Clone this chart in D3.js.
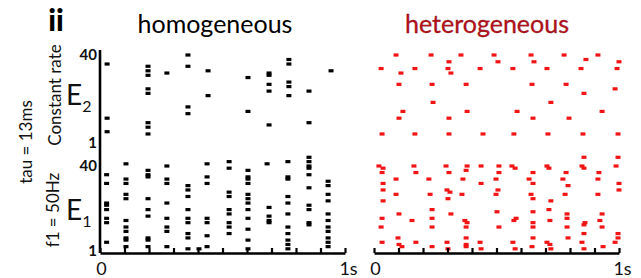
<!DOCTYPE html>
<html>
<head>
<meta charset="utf-8">
<script src="https://cdn.jsdelivr.net/npm/d3@7"></script>
<style>
  body { margin: 0; background: #fff; }
  text { font-family: Lato, "Open Sans", sans-serif; }
</style>
</head>
<body>
<div id="chart"></div>
<script>
// homogeneous: bursts, [time (s), [neuron ids]]
var homE2 = [
  [0.029, [36, 12, 6]],
  [0.196, [35, 33, 31, 25, 23, 10, 8, 5]],
  [0.273, [32]],
  [0.359, [40, 35, 17, 14]],
  [0.441, [33, 22]],
  [0.604, [30, 15]],
  [0.690, [32, 31, 27, 24, 9]],
  [0.771, [38, 36, 28, 26, 22]],
  [0.853, [24, 10]],
  [0.943, [33]]
];
var homE1 = [
  [0.027, [36, 32, 23, 22, 20, 16, 14, 5]],
  [0.106, [41, 34, 32, 27, 25, 15, 12, 10, 7, 6, 3]],
  [0.196, [38, 36, 35, 25, 20, 17, 7, 6, 3]],
  [0.273, [40, 34, 32, 23, 16, 12, 10, 3]],
  [0.359, [31, 29, 26, 20, 16, 14, 9, 7, 2]],
  [0.404, [2]],
  [0.437, [41, 35, 32, 16, 14, 8, 3]],
  [0.527, [42, 39, 28, 26, 20, 18, 14, 12, 9]],
  [0.604, [38, 35, 34, 32, 27, 25, 23, 20, 16, 11, 6, 2]],
  [0.682, [41]],
  [0.690, [21, 17, 15, 14]],
  [0.767, [42, 35, 34, 26, 23, 18, 12, 9, 6, 4, 2]],
  [0.853, [44, 42, 40, 39, 36, 30, 22, 20, 14, 13]],
  [0.931, [33, 31, 27, 24, 18, 15, 12, 10, 7, 5, 3]]
];

// heterogeneous: single spikes, [time (s), neuron id]
var hetE2 = [
  [0.090, 40], [0.233, 40], [0.355, 40], [0.490, 40], [0.641, 40], [0.776, 40], [0.914, 40],
  [0.306, 37], [0.506, 37], [0.653, 37], [0.865, 38], [1.000, 37],
  [0.029, 34], [0.167, 34], [0.302, 34], [0.433, 34], [0.567, 34], [0.706, 34], [0.845, 34], [0.992, 34],
  [0.110, 32], [0.314, 32],
  [0.102, 27], [0.237, 27], [0.376, 27], [0.645, 27], [0.784, 27], [0.857, 23], [0.984, 25],
  [0.241, 19], [0.722, 19],
  [0.118, 15], [0.380, 15], [0.584, 15], [0.931, 15],
  [0.102, 12], [0.306, 12], [0.649, 12], [0.796, 12],
  [0.033, 5], [0.167, 5], [0.306, 5], [0.445, 5], [0.571, 5], [0.710, 5], [0.853, 5], [0.996, 5]
];
var hetE1 = [
  [0.020, 40], [0.037, 39], [0.033, 37], [0.037, 32], [0.037, 29], [0.037, 24], [0.033, 16], [0.029, 12], [0.033, 5],
  [0.090, 34], [0.090, 27], [0.102, 18], [0.098, 7], [0.102, 4], [0.114, 3],
  [0.163, 40], [0.171, 37], [0.155, 15], [0.171, 5],
  [0.224, 34], [0.229, 27], [0.237, 20], [0.237, 16], [0.237, 12], [0.237, 3],
  [0.294, 40], [0.306, 37], [0.298, 29], [0.310, 28], [0.302, 25], [0.314, 18], [0.298, 5], [0.302, 2],
  [0.363, 34], [0.359, 27], [0.380, 40], [0.376, 38], [0.371, 15], [0.380, 14], [0.376, 12], [0.376, 7], [0.376, 4], [0.376, 3],
  [0.437, 40], [0.437, 32], [0.433, 5], [0.437, 2],
  [0.510, 40], [0.510, 37], [0.498, 34], [0.506, 29], [0.498, 27], [0.502, 19], [0.510, 12],
  [0.567, 5], [0.576, 2], [0.563, 40], [0.576, 39], [0.580, 16], [0.571, 15],
  [0.649, 37], [0.633, 34], [0.649, 32], [0.641, 27], [0.649, 25], [0.649, 19], [0.649, 14], [0.649, 12], [0.649, 7], [0.645, 3],
  [0.706, 40], [0.714, 39], [0.722, 24], [0.714, 20], [0.718, 15], [0.706, 5], [0.718, 4], [0.722, 2],
  [0.784, 37], [0.771, 34], [0.792, 31], [0.780, 27], [0.788, 18], [0.788, 16], [0.788, 12], [0.792, 7],
  [0.857, 44], [0.849, 40], [0.857, 39], [0.861, 14], [0.857, 13], [0.857, 9], [0.849, 5], [0.857, 2],
  [0.918, 37], [0.914, 34], [0.914, 27], [0.931, 18], [0.922, 15], [0.931, 12], [0.935, 3],
  [0.996, 44], [0.988, 40], [1.000, 32], [1.000, 29], [0.996, 9], [0.996, 7], [0.984, 5]
];

var yTicks = [1, 40];
var xTicks = d3.range(0, 1.0001, 0.1);

var width = 641, height = 278;
var svg = d3.select("#chart").append("svg")
  .attr("width", width)
  .attr("height", height);

var xL = d3.scaleLinear().domain([0, 1]).range([100, 345]);
var xR = d3.scaleLinear().domain([0, 1]).range([374, 619]);
var yTop = d3.scaleLinear().domain([1, 40]).range([143, 55]);
var yBot = d3.scaleLinear().domain([1, 40]).range([251, 166]);
var baseY = 253;

function flatten(bursts) {
  var out = [];
  bursts.forEach(function(b) {
    b[1].forEach(function(n) { out.push([b[0], n]); });
  });
  return out;
}

function raster(data, x, y, color) {
  svg.append("g").selectAll("rect")
    .data(data)
    .enter().append("rect")
    .attr("x", function(d) { return x(d[0]) - 2.5; })
    .attr("y", function(d) { return y(d[1]) - 1.6; })
    .attr("width", 5)
    .attr("height", 3.2)
    .style("fill", color);
}

raster(flatten(homE2), xL, yTop, "#000");
raster(flatten(homE1), xL, yBot, "#000");
raster(hetE2, xR, yTop, "#f01414");
raster(hetE1, xR, yBot, "#f01414");

// time axes
function timeAxis(x) {
  var g = svg.append("g")
    .attr("transform", "translate(0," + baseY + ")")
    .call(d3.axisBottom(x)
      .tickValues(xTicks)
      .tickSizeInner(-5)
      .tickSizeOuter(0)
      .tickPadding(9)
      .tickFormat(function(d) {
        if (d === 0) return "0";
        if (Math.abs(d - 1) < 1e-6) return "1s";
        return "";
      }));
  g.select(".domain").attr("stroke-width", 2.6);
  g.selectAll(".tick line").attr("stroke-width", 2.2);
  g.selectAll(".tick text")
    .style("font-family", "Lato, sans-serif")
    .style("font-size", "18px")
    .attr("fill", "#111")
    .attr("dx", function(d) { return d > 0.5 ? 3 : 1; });
}
timeAxis(xL);
timeAxis(xR);

// neuron axis (left only)
svg.append("line")
  .attr("x1", xL(0)).attr("x2", xL(0))
  .attr("y1", yTop(40) - 5).attr("y2", baseY)
  .attr("stroke", "#000")
  .attr("stroke-width", 2.6);

[yTop, yBot].forEach(function(y) {
  var g = svg.append("g")
    .attr("transform", "translate(" + xL(0) + ",0)")
    .call(d3.axisLeft(y).tickValues(yTicks).tickSize(0).tickPadding(3));
  g.select(".domain").remove();
  g.selectAll(".tick text")
    .style("font-family", "Lato, sans-serif")
    .style("font-size", "15px")
    .style("font-weight", "bold")
    .attr("fill", "#111");
});

// titles
svg.append("text")
  .attr("x", 56).attr("y", 31)
  .attr("text-anchor", "middle")
  .style("font-size", "30px")
  .style("font-weight", "900")
  .text("ii");

svg.append("text")
  .attr("x", 215).attr("y", 33)
  .attr("text-anchor", "middle")
  .style("font-size", "25px")
  .attr("fill", "#000")
  .text("homogeneous");

svg.append("text")
  .attr("x", 487).attr("y", 33)
  .attr("text-anchor", "middle")
  .style("font-size", "25px")
  .attr("fill", "#b5121b")
  .attr("stroke", "#7a0e12")
  .attr("stroke-width", 0.3)
  .text("heterogeneous");

// side labels
function vtext(x, y, s) {
  svg.append("text")
    .attr("transform", "translate(" + x + "," + y + ") rotate(-90)")
    .attr("text-anchor", "middle")
    .style("font-size", "17px")
    .attr("fill", "#111")
    .text(s);
}
vtext(61, 95, "Constant rate");
vtext(32, 142, "tau = 13ms");
vtext(59, 210, "f1 = 50Hz");

function popLabel(y, sub) {
  var t = svg.append("text")
    .attr("x", 66).attr("y", y)
    .style("font-size", "28px")
    .attr("fill", "#111")
    .text("E");
  t.append("tspan")
    .attr("dy", 7)
    .style("font-size", "16px")
    .text(sub);
}
popLabel(105, "2");
popLabel(220, "1");
</script>
</body>
</html>
